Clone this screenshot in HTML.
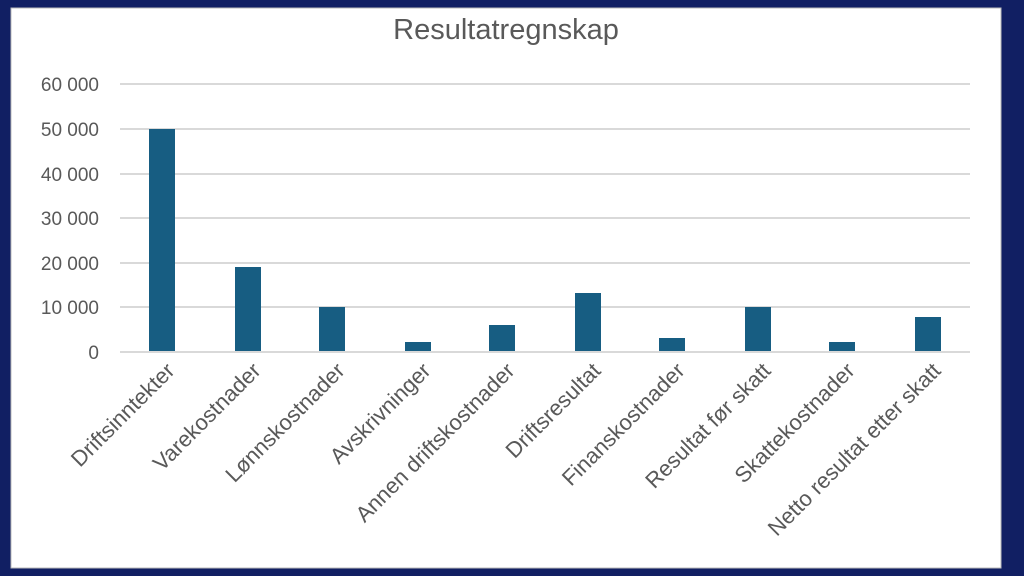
<!DOCTYPE html><html><head><style>body{margin:0;width:1024px;height:576px;background:#111f63;overflow:hidden;font-family:"Liberation Sans",sans-serif}</style></head><body>
<svg width="1024" height="576" style="position:absolute;left:0;top:0">
<rect x="11" y="8" width="990" height="560" fill="#fff" stroke="#bbb"/>
<text x="506" y="39" text-anchor="middle" font-size="29" fill="#595959">Resultatregnskap</text>
<g stroke="#d9d9d9" stroke-width="2">
<line x1="120" x2="970" y1="84" y2="84"/><line x1="120" x2="970" y1="129" y2="129"/><line x1="120" x2="970" y1="174" y2="174"/><line x1="120" x2="970" y1="218" y2="218"/><line x1="120" x2="970" y1="263" y2="263"/><line x1="120" x2="970" y1="307" y2="307"/><line x1="120" x2="970" y1="352" y2="352"/></g>
<g font-size="19" fill="#595959" text-anchor="end">
<text x="99" y="91">60 000</text><text x="99" y="136">50 000</text><text x="99" y="181">40 000</text><text x="99" y="225">30 000</text><text x="99" y="270">20 000</text><text x="99" y="314">10 000</text><text x="99" y="359">0</text></g>
<g fill="#175d82">
<rect x="149" y="129" width="26" height="222"/>
<rect x="235" y="267" width="26" height="84"/>
<rect x="319" y="307" width="26" height="44"/>
<rect x="405" y="342" width="26" height="9"/>
<rect x="489" y="325" width="26" height="26"/>
<rect x="575" y="293" width="26" height="58"/>
<rect x="659" y="338" width="26" height="13"/>
<rect x="745" y="307" width="26" height="44"/>
<rect x="829" y="342" width="26" height="9"/>
<rect x="915" y="317" width="26" height="34"/>
</g>
<g font-size="22" fill="#595959" text-anchor="end">
<text transform="translate(176,372) rotate(-45)">Driftsinntekter</text>
<text transform="translate(262,372) rotate(-45)">Varekostnader</text>
<text transform="translate(346,372) rotate(-45)">Lønnskostnader</text>
<text transform="translate(432,372) rotate(-45)">Avskrivninger</text>
<text transform="translate(516,372) rotate(-45)">Annen  driftskostnader</text>
<text transform="translate(602,372) rotate(-45)">Driftsresultat</text>
<text transform="translate(686,372) rotate(-45)">Finanskostnader</text>
<text transform="translate(772,372) rotate(-45)">Resultat før skatt</text>
<text transform="translate(856,372) rotate(-45)">Skattekostnader</text>
<text transform="translate(942,372) rotate(-45)">Netto resultat etter skatt</text>
</g>
</svg></body></html>
